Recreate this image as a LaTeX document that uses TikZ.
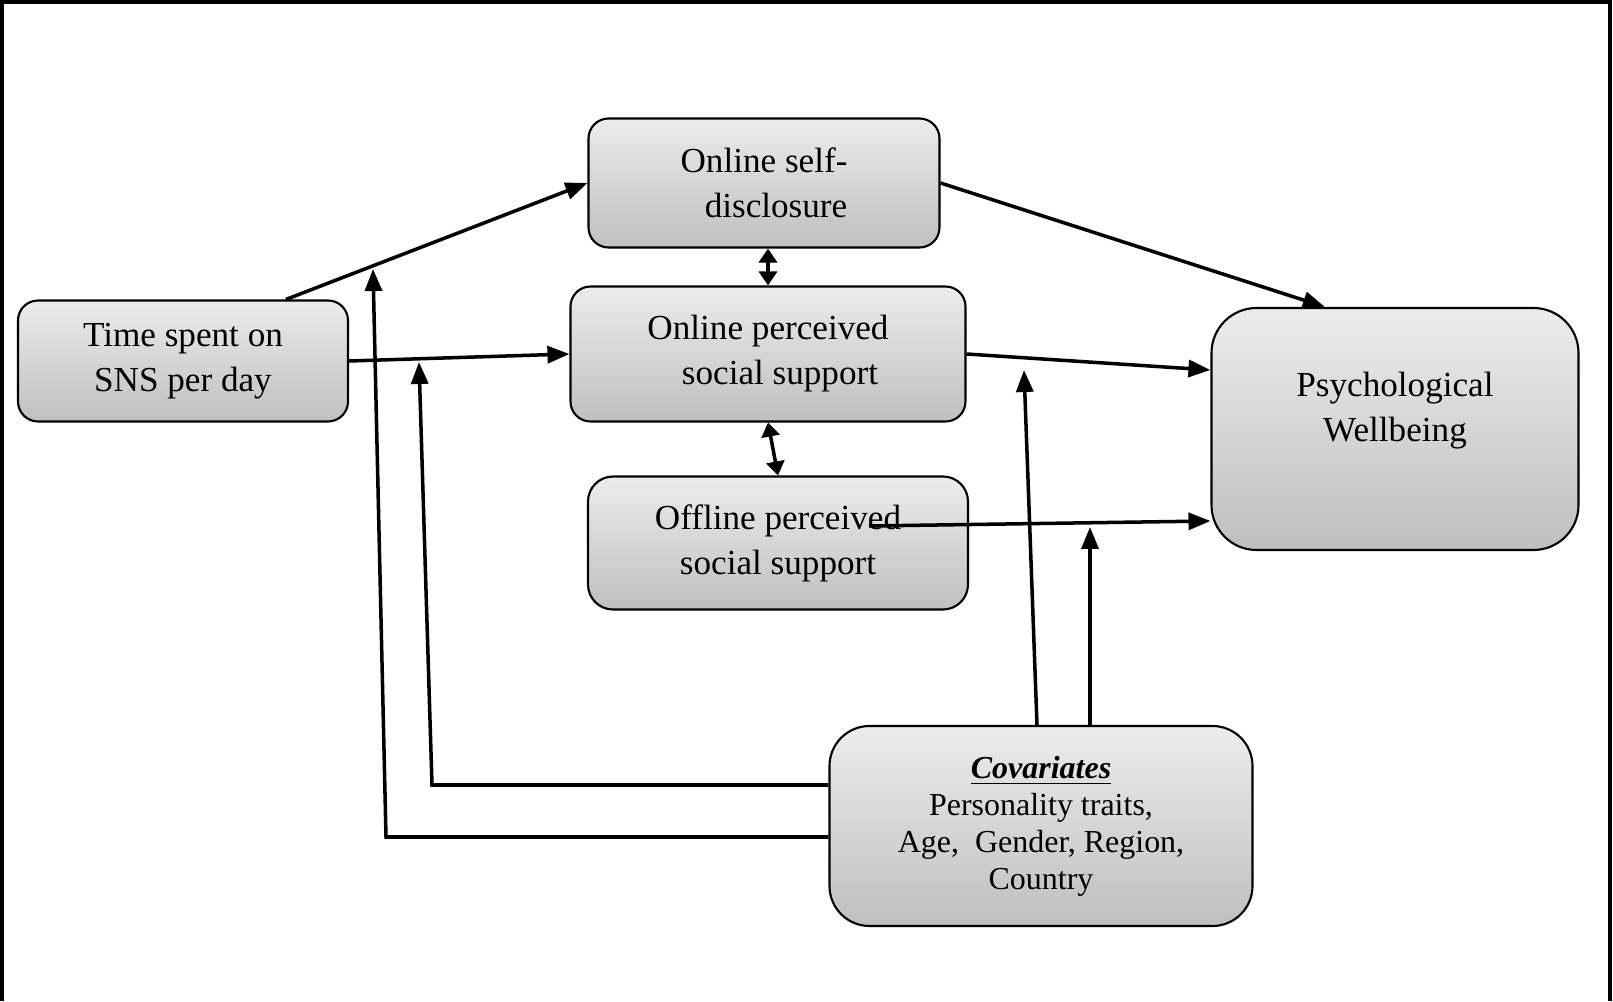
\documentclass[tikz,border=0pt]{standalone}
\usepackage{fontspec}
\setmainfont{Liberation Serif}
\usetikzlibrary{positioning,calc,arrows.meta}

\begin{document}
\begin{tikzpicture}[
  box/.style={draw, line width=0.6pt, rounded corners=2mm, align=center, inner sep=0pt,
    top color=gray!15, bottom color=gray!50, font=\fontsize{10}{12.8}\selectfont},
  arrow/.style={-{Triangle[length=2.2mm,width=1.7mm]}, line width=1pt},
  twoway/.style={{Triangle[length=1.4mm,width=1.8mm]}-{Triangle[length=1.4mm,width=1.8mm]}, line width=1pt}
]
\useasboundingbox (0,0) rectangle (16.13,10.01);
\draw[line width=0.9pt] (0.02,0) |- (16.10,9.99) -- (16.10,0);

\node[box, minimum width=33mm, minimum height=12.1mm] (time) at (1.83,6.40) {Time spent on\\SNS per day};
\node[box, minimum width=35.1mm, minimum height=12.9mm] (sd) at (7.64,8.18) {Online self-\\\hspace{2.4mm}disclosure};
\node[box, minimum width=39.5mm, minimum height=13.5mm] (op) at (7.68,6.47) {Online perceived\\\hspace{2.4mm}social support};
\node[box, minimum width=38mm, minimum height=13.3mm, rounded corners=2.5mm] (off) at (7.78,4.58) {Offline perceived\\social support};
\node[box, minimum width=36.7mm, minimum height=24.2mm, rounded corners=4.5mm] (psych) at (13.95,5.72) {};
\node[align=center, font=\fontsize{10}{12.8}\selectfont] (psychlabel) at ([yshift=1.8mm]psych.center) {Psychological\\Wellbeing};
\node[box, minimum width=42.3mm, minimum height=20mm, rounded corners=4mm, font=\fontsize{9.1}{10.5}\selectfont] (cov) at (10.41,1.75)
  {\textbf{\textit{\underline{Covariates}}}\\Personality traits,\\Age, \ Gender, Region,\\Country};

% arrow tips that stop on other paths
\coordinate (offstart) at (8.69,4.75);
\coordinate (hitop) at (10.24,6.31);
\coordinate (hioff) at (10.90,4.74);
\coordinate (hitime) at (4.19,6.39);
\coordinate (hisd) at (3.73,7.32);
\coordinate (cornerin) at (4.32,2.16);
\coordinate (cornerout) at (3.86,1.64);

% main paths
\draw[arrow] ($(time.north west)!0.81!(time.north east)$) -- (sd.west);
\draw[arrow] (time.east) -- (op.west);
\draw[arrow] (sd.east) -- ($(psych.north west)!0.31!(psych.north east)$);
\draw[arrow] (op.east) -- ([yshift=5.9mm]psych.west);
\draw[arrow] (offstart) -- ([yshift=-9.2mm]psych.west);
\draw[twoway] (op.north |- sd.south) -- (op.north);
\draw[twoway] (op.south) -- (off.north);

% covariates
\draw[arrow] ([xshift=-0.4mm]cov.north) -- (hitop);
\draw[arrow] (cov.north -| hioff) -- (hioff);
\draw[arrow] ([yshift=4.1mm]cov.west) -- (cornerin) -- (hitime);
\draw[arrow] ([yshift=-1.1mm]cov.west) -- (cornerout) -- (hisd);
\end{tikzpicture}
\end{document}
